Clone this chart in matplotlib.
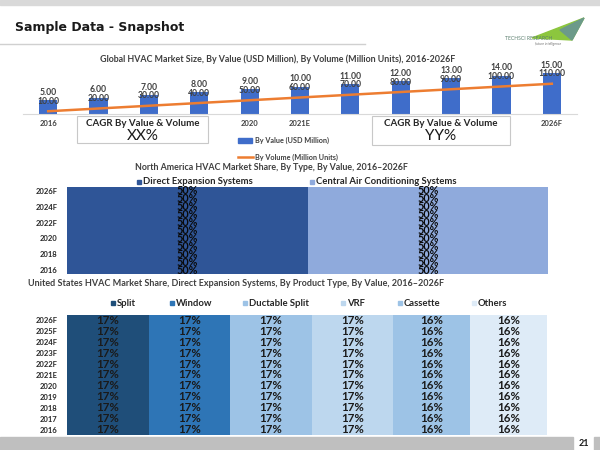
import matplotlib
matplotlib.use("Agg")
import matplotlib.pyplot as plt
from matplotlib.patches import Rectangle, Polygon

# Dades del gràfic 1 (mida del mercat global)
anys = ["2016", "2017", "2018", "2019", "2020", "2021E", "2022F", "2023F", "2024F", "2025F", "2026F"]
valor = [5, 6, 7, 8, 9, 10, 11, 12, 13, 14, 15]
volum = [10, 20, 30, 40, 50, 60, 70, 80, 90, 100, 110]
etiquetes_x = ["2016", "", "", "", "2020", "2021E", "", "", "", "", "2026F"]

# Dades del gràfic 2 (Amèrica del Nord, per tipus)
anys_na = ["2016", "2017", "2018", "2019", "2020", "2021E", "2022F", "2023F", "2024F", "2025F", "2026F"]
etiquetes_na = ["2016", "", "2018", "", "2020", "", "2022F", "", "2024F", "", "2026F"]
tipus = ["Direct Expansion Systems", "Central Air Conditioning Systems"]
dx = [50, 50, 50, 50, 50, 50, 50, 50, 50, 50, 50]
central = [50, 50, 50, 50, 50, 50, 50, 50, 50, 50, 50]

# Dades del gràfic 3 (EUA, per producte)
productes = ["Split", "Window", "Ductable Split", "VRF", "Cassette", "Others"]
split = [17, 17, 17, 17, 17, 17, 17, 17, 17, 17, 17]
window = [17, 17, 17, 17, 17, 17, 17, 17, 17, 17, 17]
ductable = [17, 17, 17, 17, 17, 17, 17, 17, 17, 17, 17]
vrf = [17, 17, 17, 17, 17, 17, 17, 17, 17, 17, 17]
cassette = [16, 16, 16, 16, 16, 16, 16, 16, 16, 16, 16]
others = [16, 16, 16, 16, 16, 16, 16, 16, 16, 16, 16]

W, H = 600, 450
fig = plt.figure(figsize=(6, 4.5), dpi=100)
fig.patch.set_facecolor("white")

def fx(x):
    return x / W

def fy(y):
    return 1 - y / H

def caixa(x0, y0, x1, y1):#Rectangle en píxels (origen a dalt a l'esquerra)
    return [fx(x0), fy(y1), (x1 - x0) / W, (y1 - y0) / H]

FONT = ["Lato", "DejaVu Sans"]
GRIS = "#404040"

# Franges i capçalera
fig.patches.append(Rectangle((0, fy(5)), 1, 5 / H, transform=fig.transFigure, color="#d9d9d9", zorder=0))
fig.add_artist(plt.Line2D([0, fx(365)], [fy(44), fy(44)], color="#d0d0d0", lw=1))
fig.text(fx(15), fy(27), "Sample Data - Snapshot", fontsize=9, fontweight="bold", color="#1a1a1a",
         family="DejaVu Sans", va="center", ha="left")

# Logotip (aproximat)
fig.patches.append(Polygon([(fx(532), fy(38)), (fx(584), fy(18)), (fx(572), fy(40))],
                           closed=True, transform=fig.transFigure, color="#8cc63e", zorder=1))
fig.patches.append(Polygon([(fx(560), fy(30)), (fx(584), fy(18)), (fx(572), fy(40))],
                           closed=True, transform=fig.transFigure, color="#6c9a8a", zorder=1))
fig.text(fx(505), fy(38), "TECHSCI RESEARCH", fontsize=3.6, color="#5b7f6e", family=FONT, va="center")
fig.text(fx(535), fy(44), "future intelligence", fontsize=2.5, color="#777777", family=FONT,
         va="center", style="italic")

# ---------- Gràfic 1 ----------
ax1 = fig.add_axes(caixa(23, 64.5, 577, 114))
x = list(range(len(anys)))
ax1.bar(x, valor, width=0.36, color="#3f6dca", zorder=2)
ax1.set_xlim(-0.5, len(anys) - 0.5)
ax1.set_ylim(0, 18)
ax2 = ax1.twinx()
ax2.plot(x, volum, color="#ed7d31", lw=1.8, zorder=3)
ax2.set_ylim(0, 180)
for a in (ax1, ax2):
    a.set_yticks([])
    for s in a.spines.values():
        s.set_visible(False)
ax1.spines["bottom"].set_visible(True)
ax1.spines["bottom"].set_color("#d9d9d9")
ax1.set_xticks(x)
ax1.set_xticklabels(etiquetes_x, fontsize=5.5, fontweight="bold", color=GRIS, family=FONT)
ax1.tick_params(axis="x", length=0, pad=4)
for i in x:
    ax1.annotate(f"{valor[i]:.2f}", (i, valor[i]), xytext=(0, 5.5), textcoords="offset points",
                 ha="center", va="center", fontsize=6.2, fontweight="bold", color=GRIS, family=FONT)
    ax2.annotate(f"{volum[i]:.2f}", (i, volum[i]), xytext=(0, 7.2), textcoords="offset points",
                 ha="center", va="center", fontsize=6.2, fontweight="bold", color=GRIS, family=FONT)
fig.text(fx(278), fy(59), "Global HVAC Market Size, By Value (USD Million), By Volume (Million Units), 2016-2026F",
         fontsize=6.4, fontweight="bold", color=GRIS, family=FONT, ha="center", va="center")

# Caixes CAGR
for (x0, x1, y1, txt) in [(77, 208, 143, "XX%"), (372, 510, 145, "YY%")]:
    fig.patches.append(Rectangle((fx(x0), fy(y1)), (x1 - x0) / W, (y1 - 116) / H, transform=fig.transFigure,
                                 facecolor="white", edgecolor="#c8c8c8", lw=0.8, zorder=5))
    cx = (x0 + x1) / 2
    fig.text(fx(cx), fy(123.5), "CAGR By Value & Volume", fontsize=7, fontweight="bold", color="#262626",
             family=FONT, ha="center", va="center", zorder=6)
    fig.text(fx(cx), fy(135.5), txt, fontsize=11, color="#1a1a1a", family=FONT,
             ha="center", va="center", zorder=6)

# Llegenda gràfic 1
fig.patches.append(Rectangle((fx(238), fy(143)), 14 / W, 5 / H, transform=fig.transFigure, color="#3f6dca"))
fig.text(fx(255), fy(140.5), "By Value (USD Million)", fontsize=5.2, fontweight="bold", color=GRIS,
         family=FONT, va="center")
fig.add_artist(plt.Line2D([fx(238), fx(253)], [fy(157), fy(157)], color="#ed7d31", lw=1.8))
fig.text(fx(255), fy(157), "By Volume (Million Units)", fontsize=5.2, fontweight="bold", color=GRIS,
         family=FONT, va="center")

# ---------- Gràfic 2 ----------
ax3 = fig.add_axes(caixa(67, 187, 548, 274))
y = list(range(len(anys_na)))
ax3.barh(y, dx, height=1.0, color="#2f5597")
ax3.barh(y, central, left=dx, height=1.0, color="#8faadc")
ax3.set_xlim(0, 100)
ax3.set_ylim(-0.5, len(anys_na) - 0.5)
ax3.set_xticks([])
ax3.set_yticks(y)
ax3.set_yticklabels(etiquetes_na, fontsize=5.5, fontweight="bold", color="#262626", family=FONT)
ax3.tick_params(axis="y", length=0, pad=7)
for s in ax3.spines.values():
    s.set_visible(False)
for i in y:
    ax3.text(dx[i] / 2, i, f"{dx[i]}%", ha="center", va="center", fontsize=7.8, fontweight="bold",
             color="#0a0a0a", family=FONT)
    ax3.text(dx[i] + central[i] / 2, i, f"{central[i]}%", ha="center", va="center", fontsize=7.8,
             fontweight="bold", color="#0a0a0a", family=FONT)
fig.text(fx(271), fy(168), "North America HVAC Market Share, By Type, By Value, 2016\u20132026F",
         fontsize=6.4, fontweight="bold", color=GRIS, family=FONT, ha="center", va="center")
for (x0, nom, col) in [(137, tipus[0], "#2f5597"), (310, tipus[1], "#8faadc")]:
    fig.patches.append(Rectangle((fx(x0), fy(183.5)), 4 / W, 4 / H, transform=fig.transFigure, color=col))
    fig.text(fx(x0 + 6), fy(181.5), nom, fontsize=6.8, fontweight="bold", color="#262626",
             family=FONT, va="center")

# ---------- Gràfic 3 ----------
ax4 = fig.add_axes(caixa(67, 315, 547, 435))
series = [split, window, ductable, vrf, cassette, others]
colors = ["#1f4e79", "#2e75b6", "#9dc3e6", "#bdd7ee", "#9dc3e6", "#deebf7"]
esq = [0] * len(anys)
for serie, col in zip(series, colors):
    ax4.barh(y, serie, left=esq, height=1.0, color=col)
    for i in y:
        ax4.text(esq[i] + serie[i] / 2, i, f"{serie[i]}%", ha="center", va="center", fontsize=8.3,
                 fontweight="bold", color="#1a1a1a", family=FONT)
    esq = [a + b for a, b in zip(esq, serie)]
ax4.set_xlim(0, 100)
ax4.set_ylim(-0.5, len(anys) - 0.5)
ax4.set_xticks([])
ax4.set_yticks(y)
ax4.set_yticklabels(anys, fontsize=5.5, fontweight="bold", color="#262626", family=FONT)
ax4.tick_params(axis="y", length=0, pad=7)
for s in ax4.spines.values():
    s.set_visible(False)
fig.text(fx(28), fy(283), "United States HVAC Market Share, Direct Expansion Systems, By Product Type, By Value, 2016\u20132026F",
         fontsize=6.45, fontweight="bold", color=GRIS, family=FONT, ha="left", va="center")
posicions = [111, 170, 243, 341, 398, 472]
for x0, nom, col in zip(posicions, productes, colors):
    fig.patches.append(Rectangle((fx(x0), fy(305)), 4 / W, 4 / H, transform=fig.transFigure, color=col))
    fig.text(fx(x0 + 6), fy(303), nom, fontsize=6.8, fontweight="bold", color="#262626",
             family=FONT, va="center")

# Peu de pàgina
fig.patches.append(Rectangle((0, 0), fx(573), 13 / H, transform=fig.transFigure, color="#bfbfbf", zorder=0))
fig.patches.append(Rectangle((fx(594), 0), 6 / W, 13 / H, transform=fig.transFigure, color="#bfbfbf", zorder=0))
fig.text(fx(584), fy(443), "21", fontsize=6.5, fontweight="bold", color="#1a1a1a", family=FONT,
         ha="center", va="center")

fig.savefig("out.png", dpi=100)
